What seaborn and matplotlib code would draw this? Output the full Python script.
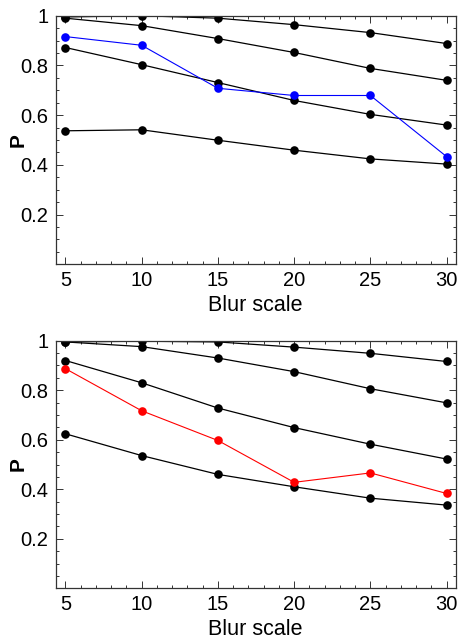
import matplotlib
matplotlib.use('Agg')
import matplotlib.pyplot as plt
from matplotlib.ticker import MultipleLocator, FuncFormatter
import seaborn as sns

blur_scale = [5, 10, 15, 20, 25, 30]

# top panel
top_black = [
    [0.995, 1.0, 0.99, 0.964, 0.932, 0.888],
    [0.99, 0.96, 0.908, 0.852, 0.788, 0.74],
    [0.872, 0.803, 0.731, 0.659, 0.603, 0.56],
    [0.537, 0.541, 0.499, 0.459, 0.424, 0.403],
]
top_blue = [0.916, 0.881, 0.708, 0.679, 0.679, 0.433]

# bottom panel
bottom_black = [
    [0.995, 0.998, 0.995, 0.974, 0.949, 0.916],
    [0.995, 0.976, 0.93, 0.875, 0.806, 0.749],
    [0.92, 0.83, 0.728, 0.649, 0.582, 0.522],
    [0.624, 0.536, 0.46, 0.41, 0.364, 0.336],
]
bottom_red = [0.887, 0.717, 0.597, 0.428, 0.466, 0.383]

sns.set_theme(style='ticks')
plt.rcParams['font.family'] = ['Liberation Sans', 'DejaVu Sans']

fig = plt.figure(figsize=(4.59, 6.41), dpi=100)
ax_top = fig.add_axes([0.121, 0.5877, 0.872, 0.3878])
ax_bot = fig.add_axes([0.121, 0.0822, 0.872, 0.3863])


def draw_panel(ax, black_series, highlight, highlight_color):
    for series in black_series:
        sns.lineplot(
            x=blur_scale,
            y=series,
            ax=ax,
            color='black',
            linewidth=0.9,
            marker='o',
            markersize=6.2,
            markeredgewidth=0,
        )
    sns.lineplot(
        x=blur_scale,
        y=highlight,
        ax=ax,
        color=highlight_color,
        linewidth=0.8,
        marker='o',
        markersize=6.2,
        markeredgewidth=0,
    )
    ax.set_xlim(4.35, 30.6)
    ax.set_ylim(0.0, 1.0)
    ax.xaxis.set_major_locator(MultipleLocator(5))
    ax.xaxis.set_minor_locator(MultipleLocator(1))
    ax.set_yticks([0.2, 0.4, 0.6, 0.8, 1.0])
    ax.yaxis.set_minor_locator(MultipleLocator(0.05))
    ax.yaxis.set_major_formatter(
        FuncFormatter(lambda v, pos: '1' if abs(v - 1) < 1e-9 else '{:.1f}'.format(v))
    )
    ax.tick_params(which='both', direction='in', top=True, right=True,
                   color='#333333', width=0.7, labelcolor='black')
    ax.tick_params(which='major', length=5, labelsize=14.5, pad=5)
    ax.tick_params(which='minor', length=2.5)
    for spine in ax.spines.values():
        spine.set_visible(True)
        spine.set_color('#333333')
        spine.set_linewidth(0.9)
    ax.set_xlabel('Blur scale', fontsize=15.5, color='black')
    ax.set_ylabel('P', fontsize=15, fontweight='bold', color='black')
    ax.xaxis.set_label_coords(0.5, -0.125)
    ax.yaxis.set_label_coords(-0.07, 0.5)


draw_panel(ax_top, top_black, top_blue, '#0000ff')
draw_panel(ax_bot, bottom_black, bottom_red, '#ff0000')

plt.savefig('out.png', dpi=100)
plt.close()
